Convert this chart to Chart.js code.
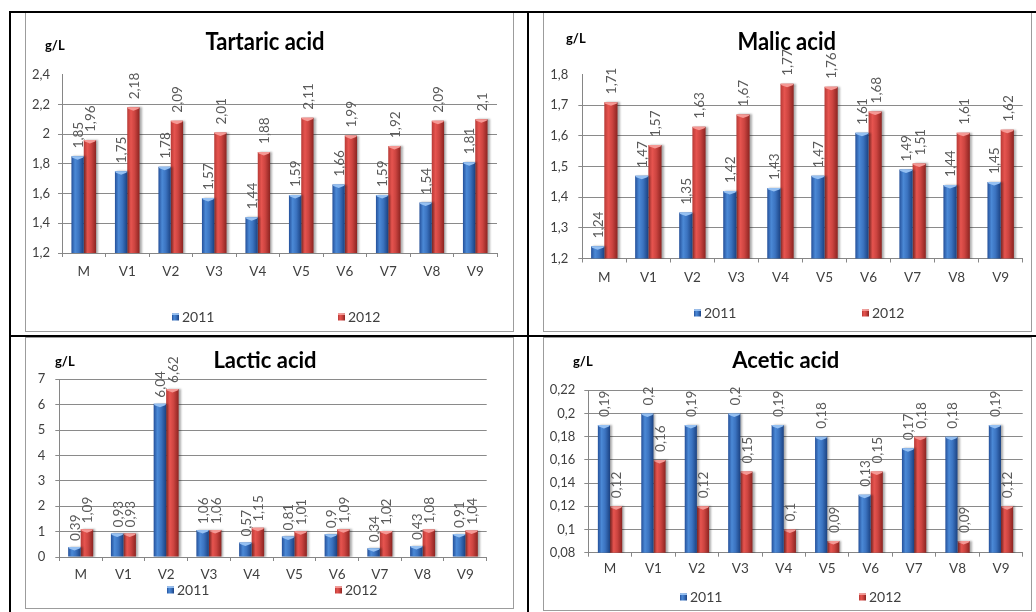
<!DOCTYPE html>
<html>
<head>
<meta charset="utf-8">
<script src="https://cdn.jsdelivr.net/npm/chart.js@4.4.1/dist/chart.umd.min.js"></script>
<style>
  html, body { margin: 0; padding: 0; background: #fff; }
  body { width: 1036px; height: 612px; position: relative; overflow: hidden; }
  .panel { position: absolute; box-sizing: border-box; border: 1px solid #9c9c9c; background: #fff; }
  .rule { position: absolute; background: #000; z-index: 5; }
  canvas { position: absolute; z-index: 2; }
</style>
</head>
<body>
<div class="panel" style="left:25px;top:11px;width:489px;height:321px"></div>
<div class="panel" style="left:543px;top:11px;width:489px;height:321px"></div>
<div class="panel" style="left:25px;top:337px;width:489px;height:272px"></div>
<div class="panel" style="left:543px;top:337px;width:489px;height:274px"></div>

<canvas id="tartaric" width="487" height="319" style="left:26px;top:12px"></canvas>
<canvas id="malic" width="487" height="319" style="left:544px;top:12px"></canvas>
<canvas id="lactic" width="487" height="270" style="left:26px;top:338px"></canvas>
<canvas id="acetic" width="487" height="272" style="left:544px;top:338px"></canvas>

<div class="rule" style="left:9px;top:11px;width:1027px;height:2px"></div>
<div class="rule" style="left:9px;top:11px;width:2px;height:601px"></div>
<div class="rule" style="left:527px;top:11px;width:2px;height:601px"></div>
<div class="rule" style="left:9px;top:335px;width:1027px;height:2px"></div>

<script>
// Samples (control M and wines V1..V9)
const categories = ['M', 'V1', 'V2', 'V3', 'V4', 'V5', 'V6', 'V7', 'V8', 'V9'];
const seasons = ['2011', '2012'];

// Organic acids, g/L
const tartaric2011 = [1.85, 1.75, 1.78, 1.57, 1.44, 1.59, 1.66, 1.59, 1.54, 1.81];
const tartaric2012 = [1.96, 2.18, 2.09, 2.01, 1.88, 2.11, 1.99, 1.92, 2.09, 2.1];
const malic2011 = [1.24, 1.47, 1.35, 1.42, 1.43, 1.47, 1.61, 1.49, 1.44, 1.45];
const malic2012 = [1.71, 1.57, 1.63, 1.67, 1.77, 1.76, 1.68, 1.51, 1.61, 1.62];
const lactic2011 = [0.39, 0.93, 6.04, 1.06, 0.57, 0.81, 0.9, 0.34, 0.43, 0.91];
const lactic2012 = [1.09, 0.93, 6.62, 1.06, 1.15, 1.01, 1.09, 1.02, 1.08, 1.04];
const acetic2011 = [0.19, 0.2, 0.19, 0.2, 0.19, 0.18, 0.13, 0.17, 0.18, 0.19];
const acetic2012 = [0.12, 0.16, 0.12, 0.15, 0.1, 0.09, 0.15, 0.18, 0.09, 0.12];

// Value-axis tick labels
const tartaricTicks = [1.2, 1.4, 1.6, 1.8, 2, 2.2, 2.4];
const malicTicks = [1.2, 1.3, 1.4, 1.5, 1.6, 1.7, 1.8];
const lacticTicks = [0, 1, 2, 3, 4, 5, 6, 7];
const aceticTicks = [0.08, 0.1, 0.12, 0.14, 0.16, 0.18, 0.2, 0.22];

const FONT = 'Lato, "Open Sans", sans-serif';
const AXIS_GREY = '#868686';
const TEXT_GREY = '#3f3f3f';

// decimal comma, as in the source tables
const fmt = v => String(Number(v.toFixed(3))).replace('.', ',');

const palettes = [
  { stops: ['#24509a', '#4b89d6', '#3b73c0', '#1b4282'], cap: '#95c0f2', flat: '#3f74bd' },
  { stops: ['#b83a36', '#e6544f', '#cc4440', '#8c2421'], cap: '#f59894', flat: '#c9433f' }
];

function shade(g, stops) {
  g.addColorStop(0, stops[0]);
  g.addColorStop(0.3, stops[1]);
  g.addColorStop(0.6, stops[2]);
  g.addColorStop(1, stops[3]);
  return g;
}

// horizontal cylinder-like shading across each bar
function barFill(ctx) {
  const pal = palettes[ctx.datasetIndex];
  const chart = ctx.chart;
  const xs = chart.scales && chart.scales.x;
  if (ctx.type !== 'data' || !xs || xs.right === undefined) return pal.flat;
  const pct = ctx.dataset.categoryPercentage;
  const center = xs.getPixelForValue(ctx.dataIndex);
  const step = xs.getPixelForValue(1) - xs.getPixelForValue(0);
  const groupW = step * pct;
  const barW = groupW / 2;
  const x0 = center - groupW / 2 + ctx.datasetIndex * barW;
  if (!isFinite(x0)) return pal.flat;
  return shade(chart.ctx.createLinearGradient(x0, 0, x0 + barW, 0), pal.stops);
}

const decor = {
  id: 'decor',
  beforeDatasetDraw(chart) {
    const c = chart.ctx;
    c.save();
    c.shadowColor = 'rgba(0,0,0,0.32)';
    c.shadowOffsetX = 2;
    c.shadowOffsetY = 0;
    c.shadowBlur = 2;
  },
  afterDatasetDraw(chart, args) {
    const c = chart.ctx;
    c.restore();
    const pal = palettes[args.index];
    c.save();
    c.fillStyle = pal.cap;
    args.meta.data.forEach(el => {
      const l = el.x - el.width / 2, r = el.x + el.width / 2, t = el.y;
      c.beginPath();
      c.moveTo(l, t);
      c.lineTo(r, t);
      c.lineTo(r - 1, t + 1.5);
      c.lineTo(el.x, t + 3.5);
      c.lineTo(l + 1, t + 1.5);
      c.closePath();
      c.fill();
    });
    c.restore();
  },
  afterDatasetsDraw(chart, args, o) {
    const c = chart.ctx;
    c.save();
    c.fillStyle = '#5a5a5a';
    c.font = '13.5px ' + FONT;
    c.textAlign = 'left';
    c.textBaseline = 'middle';
    chart.data.datasets.forEach((ds, di) => {
      chart.getDatasetMeta(di).data.forEach((el, i) => {
        c.save();
        c.translate(el.x + 1, el.y - o.labelGap);
        c.rotate(-Math.PI / 2);
        c.fillText(fmt(ds.data[i]), 0, 0);
        c.restore();
      });
    });
    c.restore();
  },
  afterDraw(chart, args, o) {
    const c = chart.ctx;
    // title
    c.save();
    c.fillStyle = '#000';
    c.font = 'bold 22px ' + FONT;
    c.textAlign = 'center';
    c.textBaseline = 'alphabetic';
    c.translate(o.titleX, o.titleY);
    c.scale(1, o.titleScaleY);
    c.fillText(o.title, 0, 0);
    c.restore();
    // unit
    c.save();
    c.fillStyle = '#000';
    c.font = 'bold 13px ' + FONT;
    c.textAlign = 'left';
    c.textBaseline = 'alphabetic';
    c.fillText('g/L', o.unitX, o.unitY);
    c.restore();
    // legend
    c.save();
    c.font = '14px ' + FONT;
    c.textBaseline = 'middle';
    c.textAlign = 'left';
    chart.data.datasets.forEach((ds, i) => {
      const x = o.legendX[i], y = o.legendY;
      const pal = palettes[i];
      c.fillStyle = shade(c.createLinearGradient(x, 0, x + 7, 0), pal.stops);
      c.fillRect(x, y - 3.5, 7, 7);
      c.fillStyle = pal.cap;
      c.fillRect(x, y - 3.5, 7, 1.5);
      c.fillStyle = TEXT_GREY;
      c.fillText(ds.label, x + 10, y + 0.5);
    });
    c.restore();
  }
};

function makeChart(id, s) {
  const yMin = s.ticks[0], yMax = s.ticks[s.ticks.length - 1];
  return new Chart(document.getElementById(id), {
    type: 'bar',
    data: {
      labels: categories,
      datasets: [
        { label: seasons[0], data: s.a, backgroundColor: barFill, categoryPercentage: s.pct, barPercentage: 1 },
        { label: seasons[1], data: s.b, backgroundColor: barFill, categoryPercentage: s.pct, barPercentage: 1 }
      ]
    },
    options: {
      responsive: false,
      animation: false,
      events: [],
      layout: { padding: s.pad },
      scales: {
        x: {
          offset: true,
          afterFit: sc => { sc.height = s.xH; },
          border: { display: true, color: AXIS_GREY, width: 1 },
          grid: { display: true, drawOnChartArea: false, drawTicks: true, tickLength: 4, offset: true, color: AXIS_GREY },
          ticks: { padding: s.xPad, color: TEXT_GREY, font: { family: FONT, size: 13.5 }, maxRotation: 0, autoSkip: false }
        },
        y: {
          min: yMin,
          max: yMax,
          afterBuildTicks: sc => { sc.ticks = s.ticks.map(v => ({ value: v })); },
          afterFit: sc => { sc.width = s.yW; },
          border: { display: true, color: AXIS_GREY, width: 1 },
          grid: {
            color: c => (s.skipTop && c.tick && Math.abs(c.tick.value - yMax) < 1e-9) ? 'rgba(0,0,0,0)' : '#8a8a8a',
            tickLength: 4,
            drawTicks: true,
            lineWidth: 1
          },
          ticks: { padding: s.yPad, color: TEXT_GREY, font: { family: FONT, size: 13 }, callback: v => fmt(v) }
        }
      },
      plugins: {
        legend: { display: false },
        title: { display: false },
        tooltip: { enabled: false },
        decor: {
          title: s.title, titleX: s.titleX, titleY: s.titleY, titleScaleY: s.titleScaleY,
          unitX: s.unitX, unitY: s.unitY,
          legendX: s.legendX, legendY: s.legendY,
          labelGap: s.labelGap
        }
      }
    },
    plugins: [decor]
  });
}

makeChart('tartaric', {
  title: 'Tartaric acid', a: tartaric2011, b: tartaric2012, ticks: tartaricTicks, skipTop: true,
  pct: 0.566, pad: { left: 4, top: 62.6, right: 16, bottom: 48 }, yW: 32, xH: 30, xPad: 7, yPad: 8,
  titleX: 239, titleY: 38, titleScaleY: 1.15, unitX: 19, unitY: 38,
  legendX: [146, 312], legendY: 305, labelGap: 8
});

makeChart('malic', {
  title: 'Malic acid', a: malic2011, b: malic2012, ticks: malicTicks, skipTop: true,
  pct: 0.6, pad: { left: 4, top: 62.6, right: 8.3, bottom: 42.5 }, yW: 34.3, xH: 30, xPad: 7.2, yPad: 10,
  titleX: 242.7, titleY: 38, titleScaleY: 1.15, unitX: 22, unitY: 31,
  legendX: [150, 318], legendY: 301, labelGap: 8
});

makeChart('lactic', {
  title: 'Lactic acid', a: lactic2011, b: lactic2012, ticks: lacticTicks, skipTop: false,
  pct: 0.585, pad: { left: 4, top: 41.3, right: 26.3, bottom: 29 }, yW: 29.3, xH: 22, xPad: 5.3, yPad: 10,
  titleX: 239, titleY: 30, titleScaleY: 1, unitX: 29, unitY: 28,
  legendX: [141, 309], legendY: 252, labelGap: 6
});

makeChart('acetic', {
  title: 'Acetic acid', a: acetic2011, b: acetic2012, ticks: aceticTicks, skipTop: false,
  pct: 0.56, pad: { left: 4, top: 52.3, right: 8.3, bottom: 35.3 }, yW: 40.3, xH: 22, xPad: 3.6, yPad: 9,
  titleX: 241.8, titleY: 30, titleScaleY: 1, unitX: 29, unitY: 28,
  legendX: [136, 315], legendY: 259, labelGap: 8
});
</script>
</body>
</html>
